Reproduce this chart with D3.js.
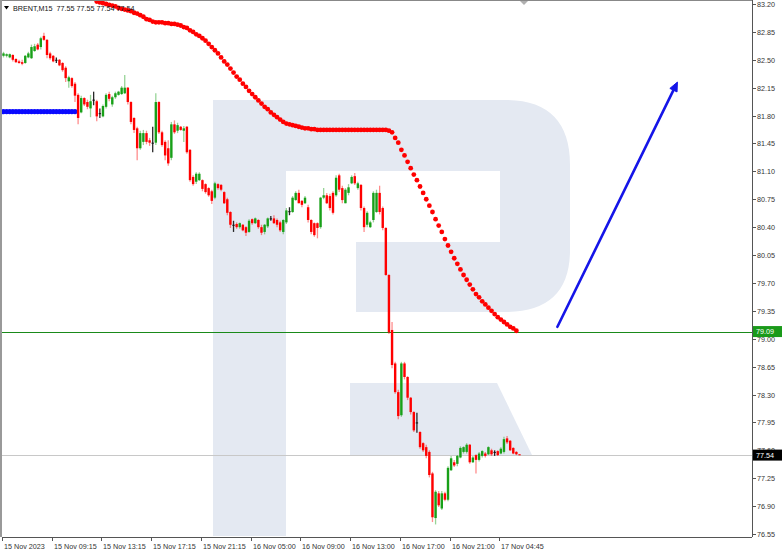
<!DOCTYPE html>
<html><head><meta charset="utf-8">
<script src="https://cdn.jsdelivr.net/npm/d3@7/dist/d3.min.js"></script>
<style>html,body{margin:0;padding:0;background:#fff;}svg{display:block;}</style>
</head><body>
<svg id="c" width="782" height="555"></svg>
<script>
// ---------- DATA ----------
const title = "BRENT,M15  77.55 77.55 77.54 77.54";
const openV = [82.55,82.55,82.53,82.56,82.51,82.48,82.47,82.46,82.53,82.52,82.61,82.69,82.66,82.80,82.75,82.58,82.55,82.50,82.50,82.46,82.40,82.23,82.27,82.20,82.06,81.84,82.02,81.97,81.89,82.00,
81.98,81.83,81.79,81.91,82.07,81.94,82.03,82.06,82.07,82.08,82.15,81.97,81.77,81.64,81.39,81.47,81.58,81.49,81.46,81.46,81.97,81.59,81.47,81.39,81.27,81.69,81.61,81.66,81.61,81.66,
81.37,81.03,80.97,80.99,80.99,80.94,80.89,80.85,80.77,80.94,80.93,80.84,80.75,80.59,80.43,80.44,80.40,80.43,80.40,80.34,80.50,80.45,80.49,80.40,80.34,80.41,80.51,80.51,80.49,80.46,
80.34,80.46,80.60,80.59,80.74,80.83,80.73,80.70,80.65,80.49,80.45,80.45,80.40,80.77,80.80,80.79,80.83,80.80,81.05,80.89,80.70,80.83,80.95,81.04,80.89,80.93,80.64,80.43,80.40,80.49,
80.59,80.83,80.64,80.39,79.80,79.11,78.69,78.33,78.04,78.69,78.52,78.26,78.08,77.95,77.83,77.69,77.64,77.58,77.31,76.75,77.06,76.87,77.06,76.98,77.35,77.45,77.43,77.51,77.58,77.58,
77.67,77.45,77.54,77.48,77.53,77.56,77.55,77.60,77.58,77.59,77.56,77.58,77.75,77.72,77.63,77.58,77.55];
const highV = [82.60,82.58,82.58,82.57,82.52,82.50,82.50,82.56,82.60,82.69,82.70,82.71,82.79,82.84,82.76,82.60,82.56,82.53,82.51,82.47,82.42,82.30,82.28,82.22,82.08,82.05,82.03,82.00,82.06,82.10,
82.00,81.89,81.94,82.08,82.10,82.05,82.10,82.11,82.17,82.31,82.16,81.98,81.78,81.66,81.61,81.62,81.61,81.52,81.66,82.08,81.98,81.61,81.49,81.49,81.72,81.74,81.71,81.67,81.67,81.67,
81.38,81.05,81.09,81.09,81.00,80.95,80.90,80.87,80.97,80.95,80.94,80.85,80.77,80.60,80.48,80.46,80.46,80.44,80.41,80.50,80.51,80.52,80.50,80.43,80.44,80.52,80.54,80.55,80.51,80.48,
80.50,80.64,80.65,80.79,80.85,80.87,80.74,80.79,80.68,80.50,80.46,80.46,80.78,80.89,80.83,80.82,80.85,81.05,81.07,80.92,80.89,80.94,81.05,81.08,80.97,80.94,80.66,80.60,80.48,80.85,
80.87,80.92,80.66,80.40,79.81,79.21,78.71,78.36,78.71,78.71,78.53,78.27,78.09,78.07,77.84,77.70,77.67,77.60,77.33,77.10,77.09,77.09,77.08,77.40,77.53,77.48,77.54,77.65,77.65,77.69,
77.68,77.53,77.55,77.58,77.60,77.58,77.65,77.62,77.60,77.60,77.64,77.77,77.78,77.73,77.64,77.59,77.55];
const lowV = [82.53,82.53,82.52,82.48,82.46,82.45,82.43,82.45,82.52,82.51,82.60,82.62,82.63,82.74,82.52,82.50,82.47,82.46,82.42,82.35,82.22,82.15,82.15,81.97,81.69,81.83,81.92,81.88,81.78,81.93,
81.73,81.77,81.78,81.89,81.98,81.91,82.01,82.05,82.06,82.07,81.94,81.69,81.58,81.24,81.37,81.43,81.44,81.42,81.34,81.43,81.57,81.41,81.24,81.17,81.24,81.57,81.58,81.61,81.47,81.32,
80.97,80.92,80.94,80.98,80.85,80.82,80.78,80.69,80.75,80.87,80.85,80.69,80.55,80.39,80.34,80.38,80.38,80.35,80.29,80.33,80.43,80.44,80.38,80.30,80.31,80.39,80.48,80.44,80.40,80.34,
80.31,80.44,80.55,80.58,80.73,80.70,80.65,80.69,80.46,80.31,80.28,80.26,80.38,80.75,80.69,80.61,80.56,80.78,80.84,80.70,80.70,80.80,80.94,80.93,80.87,80.61,80.34,80.40,80.39,80.46,
80.58,80.56,80.36,79.79,79.06,78.63,78.31,77.99,78.02,78.49,78.23,78.05,77.83,77.82,77.62,77.58,77.50,77.26,76.70,76.67,76.89,76.85,76.96,76.96,77.34,77.39,77.40,77.50,77.56,77.56,
77.43,77.44,77.31,77.46,77.51,77.51,77.54,77.53,77.53,77.53,77.55,77.56,77.68,77.59,77.55,77.54,77.54];
const closeV = [82.58,82.57,82.57,82.50,82.47,82.46,82.45,82.55,82.58,82.66,82.67,82.63,82.77,82.75,82.56,82.52,82.48,82.50,82.43,82.37,82.27,82.28,82.17,82.05,81.77,82.02,81.94,81.91,81.98,82.00,
81.79,81.83,81.92,82.06,82.01,82.03,82.08,82.10,82.15,82.15,81.97,81.72,81.62,81.39,81.58,81.58,81.47,81.46,81.46,81.97,81.59,81.43,81.30,81.20,81.69,81.59,81.68,81.62,81.64,81.34,
80.99,80.94,81.07,81.07,80.88,80.84,80.80,80.73,80.95,80.89,80.87,80.70,80.58,80.43,80.43,80.40,80.45,80.36,80.33,80.48,80.45,80.51,80.40,80.33,80.43,80.51,80.51,80.45,80.43,80.36,
80.49,80.61,80.60,80.77,80.83,80.70,80.68,80.77,80.49,80.34,80.30,80.39,80.77,80.80,80.70,80.64,80.58,81.02,80.87,80.74,80.87,80.90,81.03,80.95,80.95,80.64,80.40,80.58,80.46,80.83,
80.83,80.59,80.39,79.80,79.08,78.67,78.33,78.03,78.69,78.52,78.26,78.08,77.85,77.95,77.64,77.60,77.53,77.29,76.76,77.08,76.91,77.06,76.98,77.38,77.50,77.41,77.53,77.63,77.64,77.67,
77.45,77.51,77.48,77.56,77.59,77.53,77.64,77.55,77.58,77.54,77.62,77.74,77.70,77.60,77.56,77.55,77.54];
// red dotted moving average, starting at bar index maStart
const maStart = 30;
const maV = [83.23,83.22,83.21,83.20,83.19,83.18,83.17,83.15,83.14,83.13,83.12,83.11,83.09,83.08,83.06,83.04,83.01,83.00,82.98,82.97,
82.97,82.97,82.96,82.96,82.95,82.95,82.94,82.93,82.91,82.90,82.87,82.85,82.82,82.80,82.77,82.74,82.70,82.66,82.62,82.58,
82.53,82.48,82.44,82.39,82.34,82.29,82.25,82.20,82.16,82.11,82.07,82.03,81.99,81.95,81.91,81.88,81.84,81.81,81.78,81.75,
81.72,81.70,81.69,81.68,81.67,81.66,81.65,81.64,81.64,81.63,81.63,81.62,81.62,81.62,81.62,81.62,81.62,81.62,81.62,81.62,
81.62,81.62,81.62,81.62,81.62,81.62,81.62,81.62,81.62,81.62,81.62,81.62,81.62,81.62,81.61,81.59,81.52,81.46,81.37,81.30,
81.22,81.14,81.06,80.99,80.91,80.83,80.75,80.67,80.59,80.50,80.42,80.34,80.25,80.17,80.09,80.01,79.94,79.87,79.80,79.74,
79.68,79.62,79.56,79.52,79.47,79.43,79.39,79.35,79.31,79.27,79.24,79.21,79.18,79.15,79.13,79.10];
// blue dotted level
const blueIdx = [0,1,2,3,4,5,6,7,8,9,10,11,12,13,14,15,16,17,18,19,20,21,22,23];
const blueLevel = 81.85;
// horizontal levels
const greenLevel = 79.09;
const bidLevel = 77.54;
// arrow (bar index, price)
const arrowFrom = [178.2, 79.15];
const arrowTo = [216.8, 82.22];
// axes
const yTicks = [83.20,82.85,82.50,82.15,81.80,81.45,81.10,80.75,80.40,80.05,79.70,79.35,79.00,78.65,78.30,77.95,77.60,77.25,76.90,76.55];
const xTickIdx = [0,16,32,48,64,80,96,112,128,144,160];
const xTickLabels = ["15 Nov 2023","15 Nov 09:15","15 Nov 13:15","15 Nov 17:15","15 Nov 21:15","16 Nov 05:00","16 Nov 09:00","16 Nov 13:00","16 Nov 17:00","16 Nov 21:00","17 Nov 04:45"];

// ---------- LAYOUT ----------
const L = 2, R = 752, T = 0, B = 537;
const svg = d3.select("#c");
const x = d3.scaleLinear().domain([0, 166]).range([3.5, 519.5]);
const y = d3.scaleLinear().domain([76.55, 83.20]).range([534, 4]);
const FONT = "'Liberation Sans', Arial, sans-serif";

svg.append("defs").append("clipPath").attr("id","plot")
  .append("rect").attr("x",L).attr("y",T+1).attr("width",R-L).attr("height",B-T-1);

// watermark logo
const wm = svg.append("g").attr("fill","#e4e9f2");
wm.append("path").attr("d",
  "M213,100 L505,100 Q570,100 570,165 L570,250 Q570,312 505,312 L356,312 L356,242 L500,242 L500,171 L286,171 L286,536 L213,536 Z");
wm.append("path").attr("d","M350,383 L497,383 L532,455 L350,455 Z");

// frame
svg.append("line").attr("x1",L).attr("x2",R).attr("y1",0.5).attr("y2",0.5).attr("stroke","#888");
svg.append("line").attr("x1",1).attr("x2",1).attr("y1",0).attr("y2",B).attr("stroke","#999").attr("stroke-width",2);
svg.append("line").attr("x1",R+0.5).attr("x2",R+0.5).attr("y1",0).attr("y2",B).attr("stroke","#555");
svg.append("line").attr("x1",L).attr("x2",R).attr("y1",B+0.5).attr("y2",B+0.5).attr("stroke","#555");

// y axis
const ya = svg.append("g").attr("font-family",FONT).attr("font-size","7.2px").attr("fill","#333");
yTicks.forEach(v=>{
  const yy = Math.round(y(v))+0.5;
  ya.append("line").attr("x1",R).attr("x2",R+4).attr("y1",yy).attr("y2",yy).attr("stroke","#555");
  ya.append("text").attr("x",757).attr("y",yy+2.6).text(v.toFixed(2));
});
// x axis
const xa = svg.append("g").attr("font-family",FONT).attr("font-size","7.2px").attr("fill","#333");
xTickIdx.forEach((i,k)=>{
  const xx = Math.round(x(i)-1.5)+0.5;
  xa.append("line").attr("x1",xx).attr("x2",xx).attr("y1",B).attr("y2",B+4).attr("stroke","#555");
  xa.append("text").attr("x",xx+1.5).attr("y",549).text(xTickLabels[k]);
});

const plot = svg.append("g").attr("clip-path","url(#plot)");

// levels
plot.append("line").attr("x1",L).attr("x2",R).attr("y1",Math.round(y(bidLevel))+0.5).attr("y2",Math.round(y(bidLevel))+0.5).attr("stroke","#c8c8c8");
plot.append("line").attr("x1",L).attr("x2",R).attr("y1",Math.round(y(greenLevel))+0.5).attr("y2",Math.round(y(greenLevel))+0.5).attr("stroke","#1a8a1a").attr("stroke-width",1.2);

// blue dotted level
plot.selectAll("circle.blue").data(blueIdx).join("circle").attr("class","blue")
  .attr("cx",d=>x(d)).attr("cy",y(blueLevel)).attr("r",2.6).attr("fill","#0a0aff");

// candles
const bars = d3.range(openV.length).map(i=>({i,o:openV[i],h:highV[i],l:lowV[i],c:closeV[i]}));
const col = d=> d.c>d.o ? "#18a018" : (d.c<d.o ? "#ff0000" : "#111");
const cg = plot.append("g");
cg.selectAll("line").data(bars).join("line")
  .attr("x1",d=>x(d.i)).attr("x2",d=>x(d.i)).attr("y1",d=>y(d.h)).attr("y2",d=>y(d.l))
  .attr("stroke",d=>col(d)).attr("stroke-opacity",d=>d.c===d.o?0.9:0.45).attr("stroke-width",1.3);
cg.selectAll("rect").data(bars).join("rect")
  .attr("x",d=>x(d.i)-1.2).attr("width",2.4)
  .attr("y",d=>y(Math.max(d.o,d.c)))
  .attr("height",d=>Math.max(1,Math.abs(y(d.o)-y(d.c))))
  .attr("fill",d=>col(d));

// title
svg.append("path").attr("d","M4,6 L9,6 L6.5,9.5 Z").attr("fill","#000");
svg.append("text").attr("x",13).attr("y",11).attr("font-family",FONT).attr("font-size","7.2px").attr("fill","#111")
  .attr("xml:space","preserve").style("white-space","pre").text(title);

// red MA dots
plot.selectAll("circle.ma").data(maV).join("circle").attr("class","ma")
  .attr("cx",(d,k)=>x(maStart+k)).attr("cy",d=>y(d)).attr("r",2.4).attr("fill","#ff0000");

// chart-shift marker
svg.append("path").attr("d","M520,1 L528,1 L524,5 Z").attr("fill","#b0b0b0");

// arrow
const ax1=x(arrowFrom[0]), ay1=y(arrowFrom[1]), ax2=x(arrowTo[0]), ay2=y(arrowTo[1]);
const ang = Math.atan2(ay2-ay1, ax2-ax1);
const hl = 9, hw = 4;
const bx = ax2 - hl*Math.cos(ang), by = ay2 - hl*Math.sin(ang);
svg.append("line").attr("x1",ax1).attr("y1",ay1).attr("x2",bx).attr("y2",by)
  .attr("stroke","#1515e8").attr("stroke-width",2.6).attr("stroke-linecap","round");
svg.append("path").attr("d",`M${ax2},${ay2} L${bx-hw*Math.sin(ang)},${by+hw*Math.cos(ang)} L${bx+hw*Math.sin(ang)},${by-hw*Math.cos(ang)} Z`)
  .attr("fill","#1515e8").attr("stroke","#1515e8").attr("stroke-width",1);

// price labels on axis
function tag(v, bg){
  const yy = y(v);
  svg.append("rect").attr("x",R+1).attr("y",yy-5.5).attr("width",29).attr("height",11).attr("fill",bg);
  svg.append("text").attr("x",756).attr("y",yy+2.6).attr("font-family",FONT).attr("font-size","7.2px").attr("fill","#fff").text(v.toFixed(2));
}
tag(greenLevel,"#1a9a1a");
tag(bidLevel,"#000");
</script>
</body></html>
